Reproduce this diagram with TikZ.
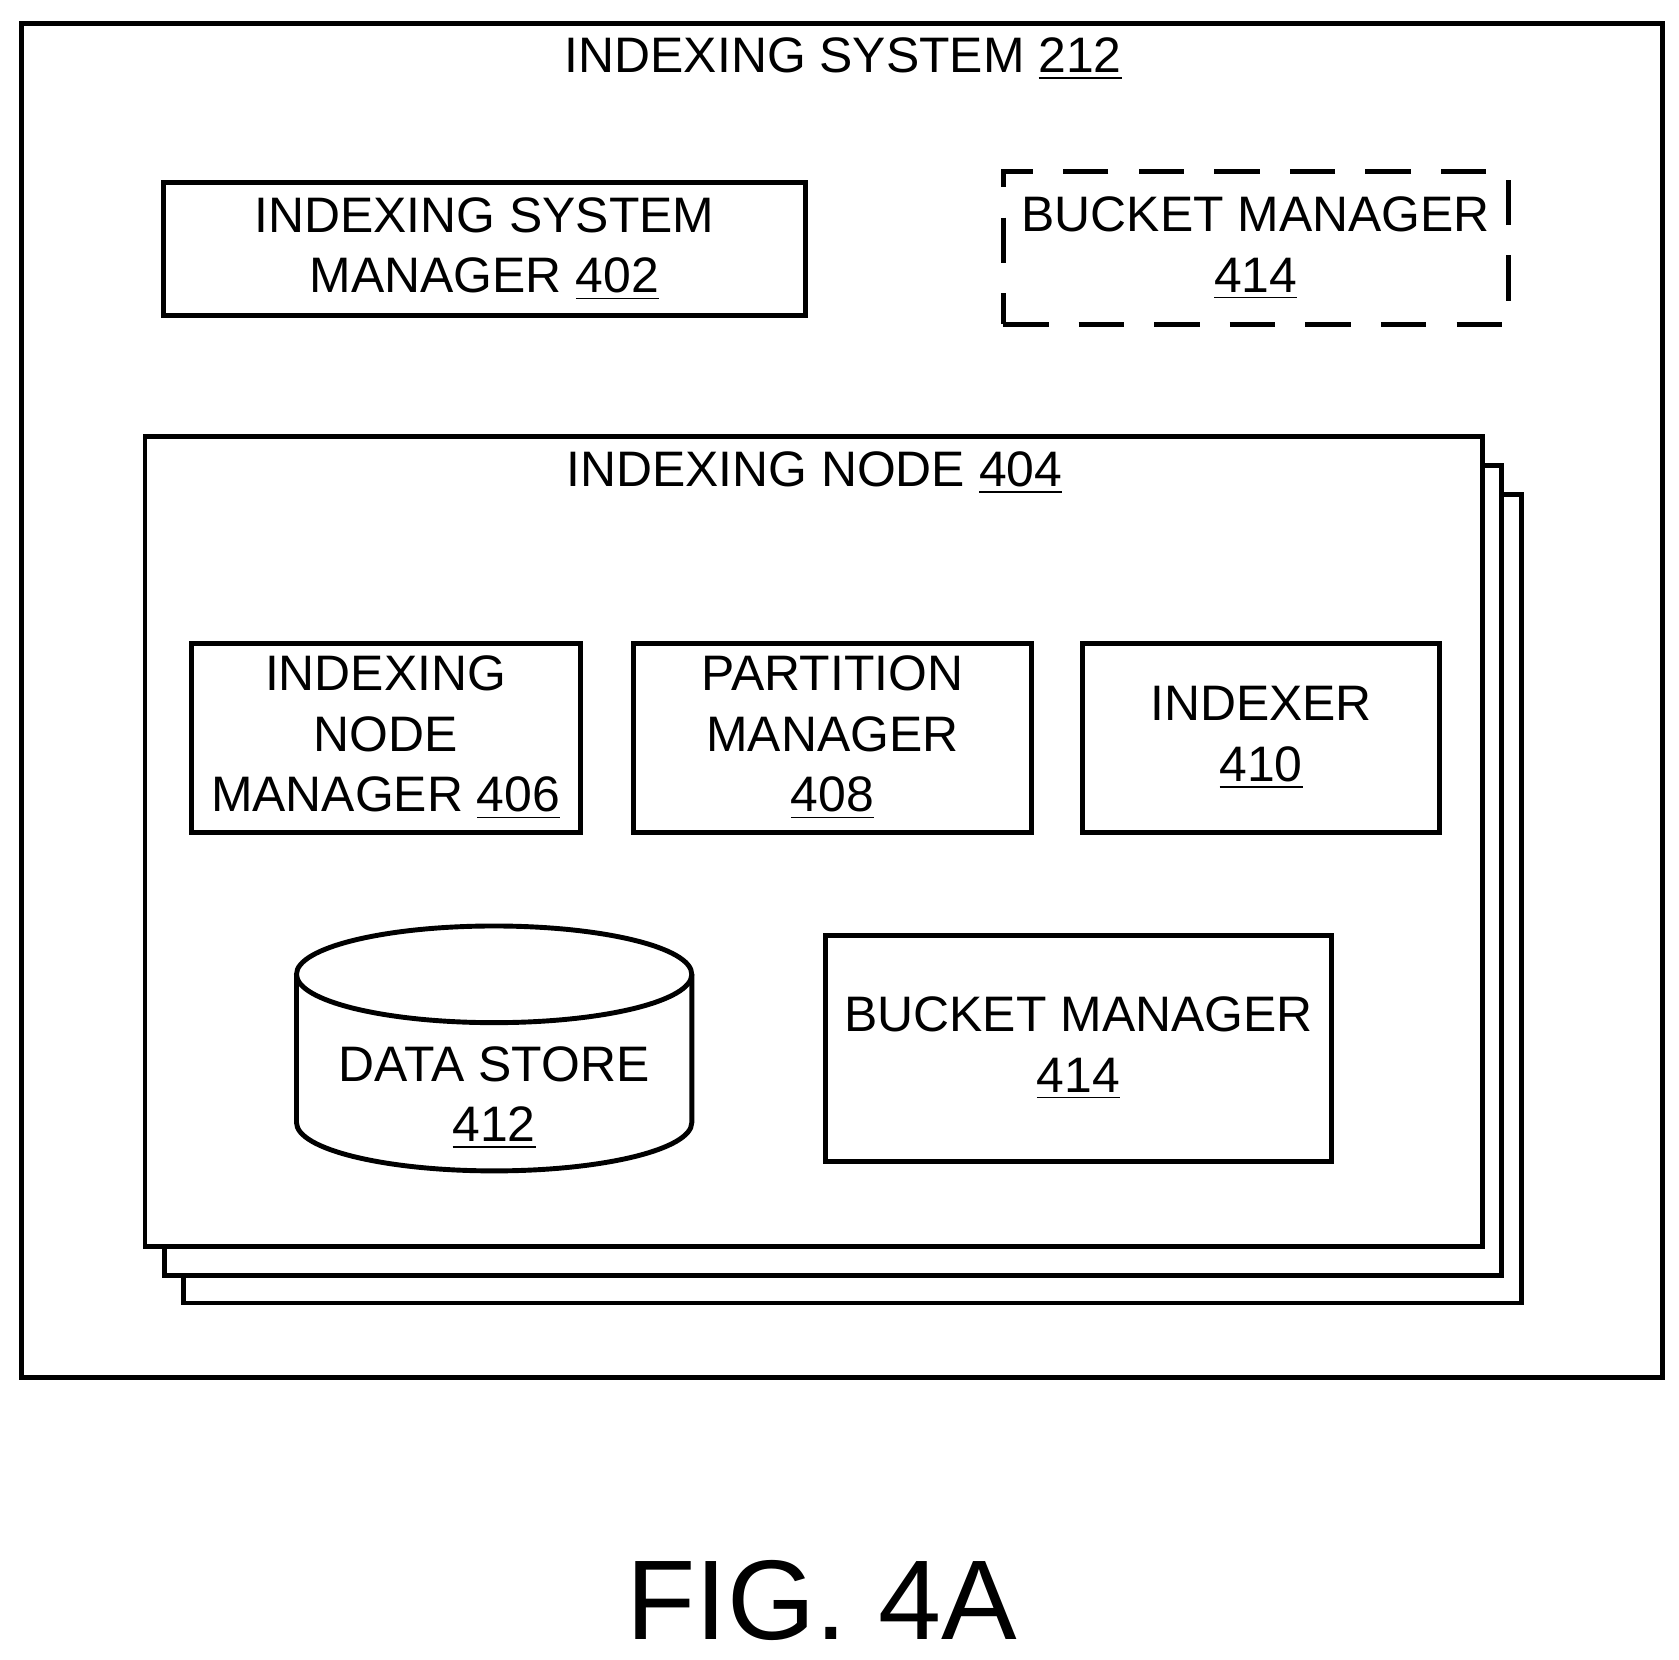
\documentclass[tikz,border=0pt]{standalone}
\usepackage{fontspec}
\setmainfont{Liberation Sans}
\usetikzlibrary{positioning}
\tikzset{
  box/.style={draw, line width=1.3pt, align=center, inner sep=1pt, font=\fontsize{13.2}{16}\selectfont},
  lbl/.style={align=center, font=\fontsize{13.2}{16}\selectfont}
}
\begin{document}
\begin{tikzpicture}[x=0.01cm,y=-0.01cm,line width=1.3pt]
    \useasboundingbox (0,0) rectangle (1563,1545);
    % outer system
    \draw (20,22) rectangle (1548,1282);
    \node[lbl] (sys) at (785,55) {INDEXING SYSTEM \underline{212}};
    \node[box, minimum width=5.98cm, minimum height=1.24cm] (ism) at (451,232)
        {INDEXING SYSTEM\\MANAGER \underline{402}};
    \node[box, dashed, dash pattern=on 12pt off 8pt, minimum width=4.7cm, minimum height=1.42cm] (bm) at (1169,231)
        {BUCKET MANAGER\\\underline{414}};
    % stacked indexing nodes
    \draw[fill=white] (171,460) rectangle (1416,1213);
    \draw[fill=white] (153,433) rectangle (1398,1187);
    \draw[fill=white] (135,406) rectangle (1380,1160);
    \node[lbl] (node) at (758,440) {INDEXING NODE \underline{404}};
    \node[box, minimum width=3.62cm, minimum height=1.76cm] (inm) at (359,687)
        {INDEXING\\NODE\\MANAGER \underline{406}};
    \node[box, minimum width=3.7cm, minimum height=1.76cm] (pm) at (775,687)
        {PARTITION\\MANAGER\\\underline{408}};
    \node[box, minimum width=3.32cm, minimum height=1.76cm] (idx) at (1174,687)
        {INDEXER\\\underline{410}};
    \node[box, minimum width=4.71cm, minimum height=2.11cm] (bm2) at (1004,976)
        {BUCKET MANAGER\\\underline{414}};
    % data store cylinder
    \draw (460,907) ellipse[x radius=184,y radius=45];
    \draw (276,907) -- (276,1045) arc[start angle=180,end angle=0,x radius=184,y radius=45] -- (644,907);
    \node[lbl] (ds) at (460,1022) {DATA STORE\\\underline{412}};
    \node[font=\fontsize{30}{36}\selectfont] (fig) at (765,1490) {FIG. 4A};
\end{tikzpicture}
\end{document}
